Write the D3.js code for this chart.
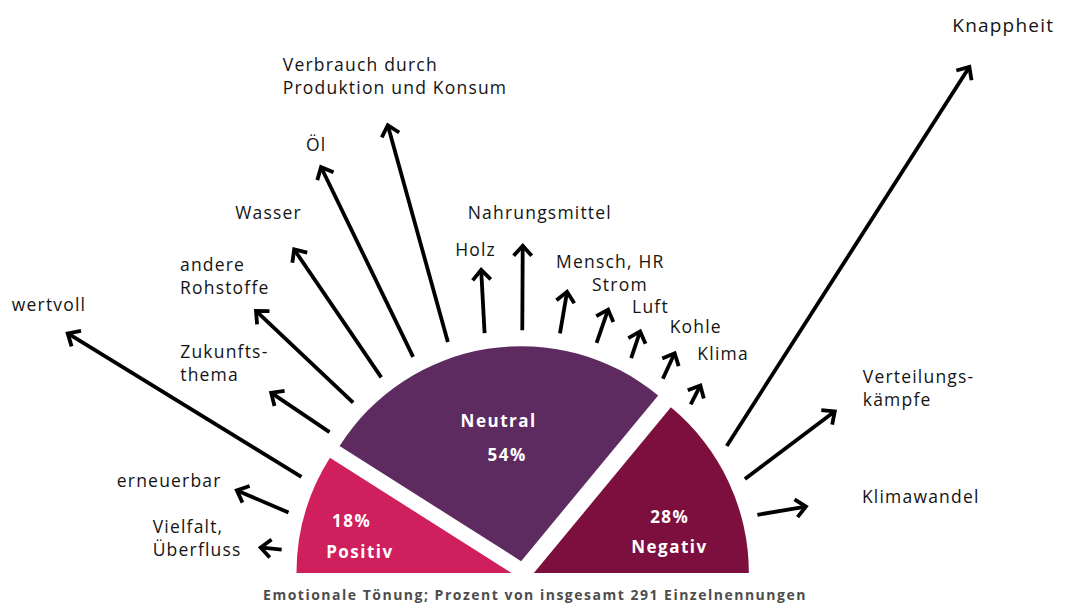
<!DOCTYPE html>
<html><head><meta charset="utf-8">
<script src="https://cdn.jsdelivr.net/npm/d3@7"></script>
<style>body{margin:0;background:#fff}svg{display:block}</style>
</head><body><svg id="chart" width="1075" height="606"></svg>
<script>
// ---------- data ----------
const tones = ["Positiv", "Neutral", "Negativ"];
const tonePercent = [18, 54, 28];
const terms = [
  "Vielfalt,\nÜberfluss", "erneuerbar", "wertvoll",
  "Zukunfts-\nthema", "andere\nRohstoffe", "Wasser", "Öl",
  "Verbrauch durch\nProduktion und Konsum", "Holz", "Nahrungsmittel",
  "Mensch, HR", "Strom", "Luft", "Kohle", "Klima",
  "Knappheit", "Verteilungs-\nkämpfe", "Klimawandel"
];
const termTone = [
  "Positiv", "Positiv", "Positiv",
  "Neutral", "Neutral", "Neutral", "Neutral", "Neutral", "Neutral",
  "Neutral", "Neutral", "Neutral", "Neutral", "Neutral", "Neutral",
  "Negativ", "Negativ", "Negativ"
];
const termCounts = [3, 8, 39, 10, 19, 22, 30, 32, 9, 12, 6, 5, 4, 4, 3, 64, 16, 7];
const footnote = "Emotionale Tönung; Prozent von insgesamt 291 Einzelnennungen";

// ---------- layout ----------
const svg = d3.select("#chart");
const cx = 523, cy = 573, R = 215, explode = 12, tailR = 231;
const toneColor = d3.scaleOrdinal(tones, ["#d01f5d", "#5e2b61", "#7d0f3e"]);
const rad = d => d * Math.PI / 180;

const pie = d3.pie().sort(null).startAngle(-Math.PI / 2).endAngle(Math.PI / 2);
const slices = pie(tonePercent).map((s, i) => {
  const mid = (s.startAngle + s.endAngle) / 2;
  let ox = explode * Math.sin(mid), oy = -explode * Math.cos(mid);
  if (Math.abs(s.startAngle + Math.PI / 2) < 1e-6 || Math.abs(s.endAngle - Math.PI / 2) < 1e-6) oy = 0;
  return Object.assign(s, { tone: tones[i], x: cx + ox, y: cy + oy });
});
const sliceByTone = Object.fromEntries(slices.map(s => [s.tone, s]));

const arc = d3.arc().innerRadius(0).outerRadius(R);
svg.append("g").selectAll("path").data(slices).join("path")
  .attr("transform", d => `translate(${d.x},${d.y})`)
  .attr("d", arc)
  .attr("fill", d => toneColor(d.tone));

// slice labels: each line placed at [fraction of slice angle, radius]
const labelSpec = {
  Positiv: [[0.556, 168, d => d.value + "%"], [0.244, 153, d => d.tone]],
  Neutral: [[0.499, 142, d => d.tone], [0.515, 107, d => d.value + "%"]],
  Negativ: [[0.556, 147, d => d.value + "%"], [0.786, 138, d => d.tone]]
};
const lg = svg.append("g").attr("fill", "#fff").attr("font-family", "'Open Sans', sans-serif")
  .attr("font-weight", 700).attr("font-size", 17).attr("letter-spacing", 1.5)
  .attr("text-anchor", "middle");
slices.forEach(d => {
  labelSpec[d.tone].forEach(([f, r, txt]) => {
    const a = d.startAngle + f * (d.endAngle - d.startAngle);
    lg.append("text").attr("x", d.x + r * Math.sin(a)).attr("y", d.y - r * Math.cos(a))
      .attr("dy", "0.36em").text(txt(d));
  });
});

// arrows
const pos = d3.scalePoint().domain(terms).range([-90, 90]).padding(1.086).align(0.284);
const len = d3.scaleLinear().domain([0, d3.max(termCounts)]).range([0, 450]);
const tilt = { "erneuerbar": -8, "wertvoll": -7, "Wasser": -3, "Öl": -2,
  "Verbrauch durch\nProduktion und Konsum": -3, "Holz": -6, "Luft": 10, "Kohle": 13, "Klima": 20,
  "Knappheit": 24, "Verteilungs-\nkämpfe": 13, "Klimawandel": -5 };
const nudge = {
  "Vielfalt,\nÜberfluss": [-108, -15], "erneuerbar": [-120, -3], "wertvoll": [-56, -22],
  "Zukunfts-\nthema": [-91, -35], "andere\nRohstoffe": [-76, -40], "Wasser": [-59, -30],
  "Öl": [-15, -16], "Verbrauch durch\nProduktion und Konsum": [-105, -54], "Holz": [-26, -14],
  "Nahrungsmittel": [-55, -27], "Mensch, HR": [-11, -24], "Strom": [-16, -19], "Luft": [-8, -18],
  "Kohle": [-5, -20], "Klima": [-3, -26], "Knappheit": [-17, -35], "Verteilungs-\nkämpfe": [28, -28],
  "Klimawandel": [56, -4]
};

const arrows = terms.map((t, i) => {
  const s = sliceByTone[termTone[i]];
  const a = rad(pos(t));
  const ad = a - rad(tilt[t] || 0);
  const x0 = s.x + tailR * Math.sin(a), y0 = s.y - tailR * Math.cos(a);
  const L = len(termCounts[i]);
  const ux = Math.sin(ad), uy = -Math.cos(ad);
  return { term: t, x0, y0, x1: x0 + L * ux, y1: y0 + L * uy, ux, uy };
});

const ag = svg.append("g").attr("stroke", "#000").attr("fill", "none").attr("stroke-width", 3.8);
const armL = 13.5, phi = rad(42);
arrows.forEach(d => {
  ag.append("line").attr("x1", d.x0).attr("y1", d.y0)
    .attr("x2", d.x1 - d.ux * 1.5).attr("y2", d.y1 - d.uy * 1.5);
  const bx = -d.ux, by = -d.uy;
  const p1 = [d.x1 + armL * (bx * Math.cos(phi) - by * Math.sin(phi)), d.y1 + armL * (bx * Math.sin(phi) + by * Math.cos(phi))];
  const p2 = [d.x1 + armL * (bx * Math.cos(-phi) - by * Math.sin(-phi)), d.y1 + armL * (bx * Math.sin(-phi) + by * Math.cos(-phi))];
  ag.append("path").attr("d", d3.line()([p1, [d.x1, d.y1], p2])).attr("stroke-linejoin", "miter");
});

// term labels
const tg = svg.append("g").attr("font-family", "'Open Sans', sans-serif").attr("fill", "#141414")
  .attr("font-weight", 500).attr("letter-spacing", 1.2);
arrows.forEach(d => {
  const [dx, dy] = nudge[d.term];
  const t = tg.append("text").attr("font-size", d.term === "Knappheit" ? 19 : 17.5);
  d.term.split("\n").forEach((line, i) => {
    t.append("tspan").attr("x", d.x1 + dx).attr("y", d.y1 + dy + i * 23).text(line);
  });
});

// footnote
svg.append("text").attr("x", 535).attr("y", 600).attr("text-anchor", "middle")
  .attr("font-family", "'Open Sans', sans-serif").attr("font-weight", 700)
  .attr("font-size", 14).attr("letter-spacing", 1.5).attr("fill", "#4d4d4d").text(footnote);
</script></body></html>
